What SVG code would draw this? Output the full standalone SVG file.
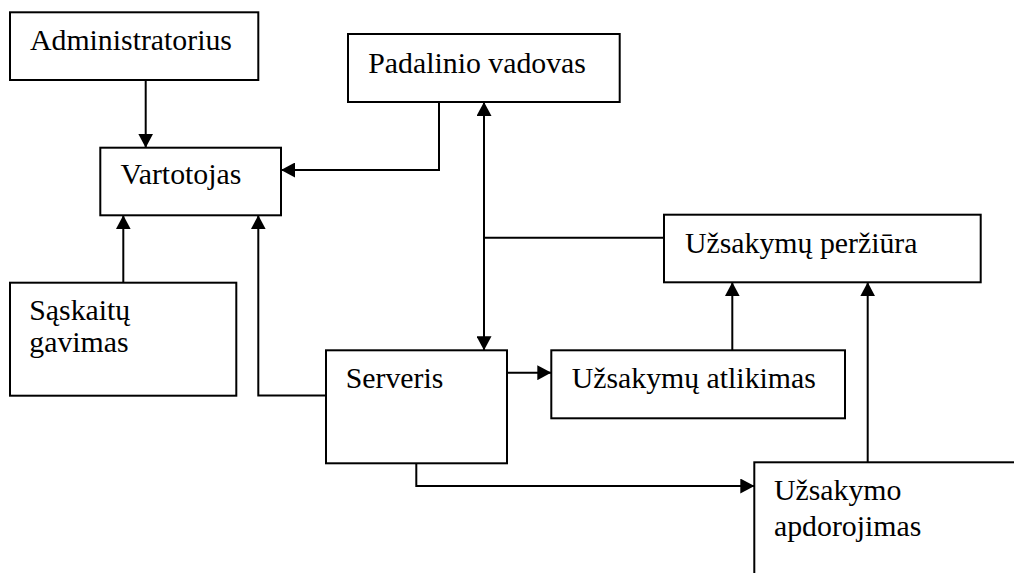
<svg xmlns="http://www.w3.org/2000/svg" width="1014" height="573" viewBox="0 0 1014 573">
  <style>
    .box { fill: #ffffff; stroke: #000000; stroke-width: 2; }
    .lbl { font-size: 29.8px; fill: #000000; }
    .wire { fill: none; stroke: #000000; stroke-width: 2; }
    .arr { marker-end: url(#head); }
    .both { marker-start: url(#head); marker-end: url(#head); }
  </style>
  <defs>
    <marker id="head" markerUnits="userSpaceOnUse" markerWidth="14" markerHeight="15" viewBox="0 0 14 15" refX="14" refY="7.5" orient="auto-start-reverse">
      <path d="M0,0 L14,7.5 L0,15 Z" fill="#000000"/>
    </marker>
  </defs>
  <rect width="1014" height="573" fill="#ffffff"/>

  <!-- connectors -->
  <g id="connectors">
    <path class="wire arr" d="M145.7,80 V147.7"/>
    <path class="wire arr" d="M439,102 V170 H281"/>
    <path class="wire both" d="M484,102 V350.3"/>
    <path class="wire" d="M484,237.7 H664"/>
    <path class="wire arr" d="M123.3,282.7 V215.3"/>
    <path class="wire arr" d="M326,395.5 H258.3 V215.3"/>
    <path class="wire arr" d="M507,372.7 H551.3"/>
    <path class="wire arr" d="M732.3,350.3 V282.3"/>
    <path class="wire arr" d="M416.3,463.3 V486 H754.3"/>
    <path class="wire arr" d="M867.7,462.3 V282.3"/>
  </g>

  <g font-family="'Liberation Serif', 'DejaVu Serif', serif">
    <g id="administratorius">
      <rect class="box" x="10" y="12.3" width="248.3" height="67.7"/>
      <text class="lbl" x="30" y="50">Administratorius</text>
    </g>
    <g id="vartotojas">
      <rect class="box" x="100.3" y="147.7" width="180.7" height="67.6"/>
      <text class="lbl" x="120.5" y="184.3">Vartotojas</text>
    </g>
    <g id="padalinio-vadovas">
      <rect class="box" x="348" y="34" width="271.7" height="68"/>
      <text class="lbl" x="368.3" y="73.3">Padalinio vadovas</text>
    </g>
    <g id="uzsakymu-perziura">
      <rect class="box" x="664" y="214.7" width="316.7" height="67.6"/>
      <text class="lbl" x="685" y="252.7">Užsakymų peržiūra</text>
    </g>
    <g id="saskaitu-gavimas">
      <rect class="box" x="10" y="282.7" width="226.3" height="113"/>
      <text class="lbl" x="29.3" y="320">Sąskaitų</text>
      <text class="lbl" x="29.3" y="351.5">gavimas</text>
    </g>
    <g id="serveris">
      <rect class="box" x="326" y="350.3" width="181" height="113"/>
      <text class="lbl" x="345.7" y="388.3">Serveris</text>
    </g>
    <g id="uzsakymu-atlikimas">
      <rect class="box" x="551.3" y="350.3" width="293.7" height="68"/>
      <text class="lbl" x="571.7" y="388.3">Užsakymų atlikimas</text>
    </g>
    <g id="uzsakymo-apdorojimas">
      <rect class="box" x="754.3" y="462.3" width="280" height="140"/>
      <text class="lbl" x="774" y="500">Užsakymo</text>
      <text class="lbl" x="774" y="535.5">apdorojimas</text>
    </g>
  </g>
</svg>
